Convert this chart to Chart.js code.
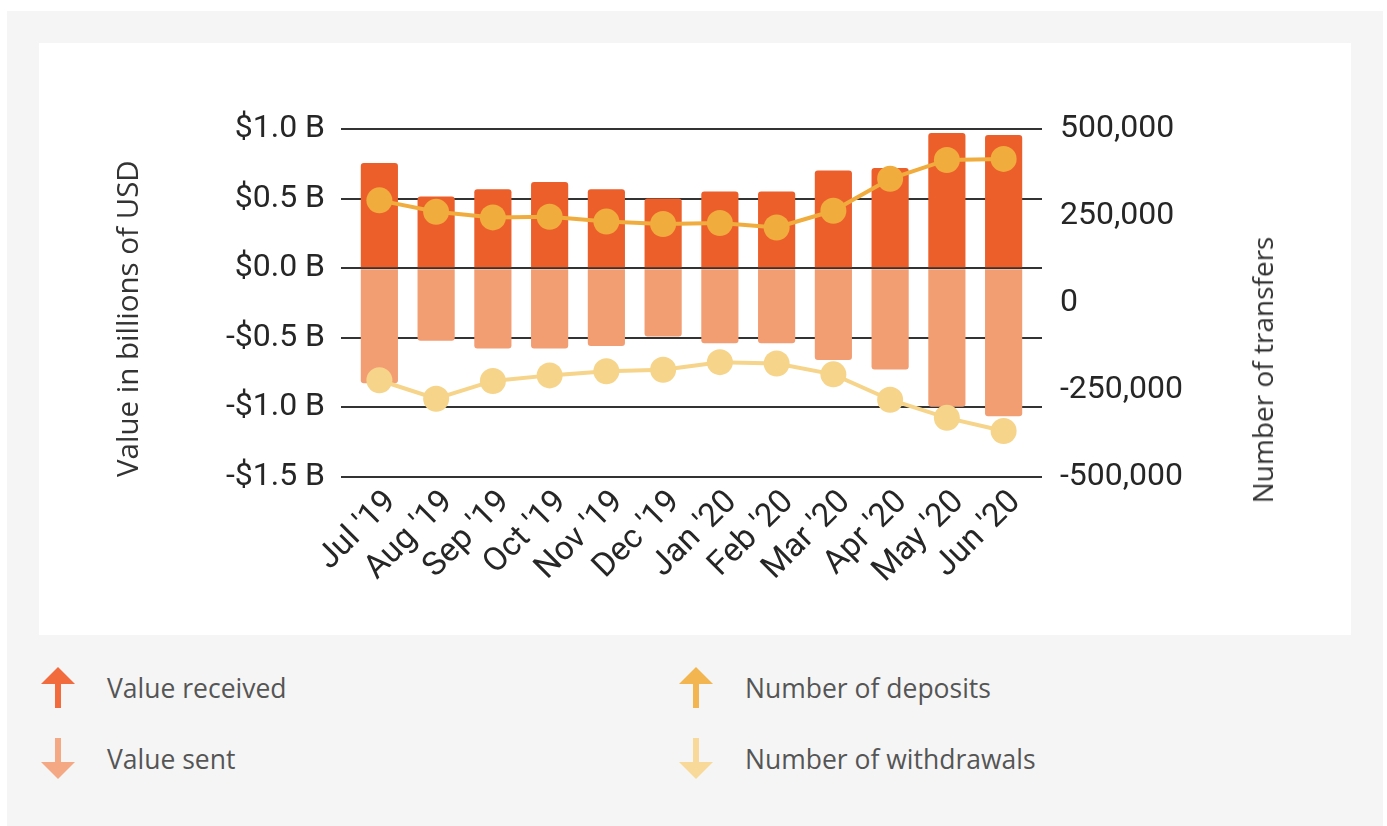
<!DOCTYPE html>
<html>
<head>
<meta charset="utf-8">
<script src="https://cdn.jsdelivr.net/npm/chart.js@4"></script>
<style>
  body { margin: 0; background: #fff; font-family: "Open Sans", sans-serif; }
  #outer { position: absolute; left: 7px; top: 11px; width: 1376px; height: 815px; background: #f5f5f5; }
  #panel { position: absolute; left: 39px; top: 43px; width: 1312px; height: 592px; background: #fff; }
  #rightTitle {
    position: absolute; left: 1262px; top: 370px; transform: translate(-50%, -50%) rotate(-90deg);
    white-space: nowrap; font-size: 28px; color: #333;
  }
  .leg { position: absolute; display: flex; align-items: center; font-size: 26.5px; color: #555; }
  .leg svg { width: 34px; height: 41px; margin-right: 32px; }
</style>
</head>
<body>
<div id="outer"></div>
<div id="panel"><canvas id="chart" width="1312" height="592"></canvas></div>
<div id="rightTitle">Number of transfers</div>

<div class="leg" style="left:41px; top:667px;">
  <svg viewBox="0 0 34 41"><polygon points="17,0 34,17 0,17" fill="#f26b3d"/><rect x="14" y="16" width="6" height="25" fill="#f26b3d"/></svg>
  Value received
</div>
<div class="leg" style="left:41px; top:738px;">
  <svg viewBox="0 0 34 41"><rect x="14" y="0" width="6" height="25" fill="#f5a884"/><polygon points="0,24 34,24 17,41" fill="#f5a884"/></svg>
  Value sent
</div>
<div class="leg" style="left:679px; top:667px;">
  <svg viewBox="0 0 34 41"><polygon points="17,0 34,17 0,17" fill="#f3b550"/><rect x="14" y="16" width="6" height="25" fill="#f3b550"/></svg>
  Number of deposits
</div>
<div class="leg" style="left:679px; top:738px;">
  <svg viewBox="0 0 34 41"><rect x="14" y="0" width="6" height="25" fill="#f8d99a"/><polygon points="0,24 34,24 17,41" fill="#f8d99a"/></svg>
  Number of withdrawals
</div>

<script>
const months = ["Jul '19", "Aug '19", "Sep '19", "Oct '19", "Nov '19", "Dec '19",
                "Jan '20", "Feb '20", "Mar '20", "Apr '20", "May '20", "Jun '20"];

// billions of USD
const valueReceived = [0.755, 0.515, 0.568, 0.62, 0.568, 0.50, 0.551, 0.551, 0.702, 0.719, 0.971, 0.957];
const valueSent = [-0.827, -0.521, -0.576, -0.576, -0.559, -0.49, -0.54, -0.54, -0.66, -0.727, -0.996, -1.063];

// number of transfers
const deposits = [295000, 262000, 246000, 248000, 234000, 227000, 230000, 217000, 265000, 357000, 411000, 414000];
const withdrawals = [-222000, -275000, -224000, -208000, -196000, -192000, -170000, -174000, -205000, -278000, -330000, -368000];

const tickFont = { family: 'Roboto', size: 32 };
const textColor = '#262626';
const gridColor = '#333';

const ctx = document.getElementById('chart').getContext('2d');
new Chart(ctx, {
  data: {
    labels: months,
    datasets: [
      {
        type: 'line', label: 'Number of deposits', data: deposits, yAxisID: 'y1', order: 0,
        borderColor: '#f0ac3c', backgroundColor: '#f0ac3c', borderWidth: 4,
        pointRadius: 13, pointBorderWidth: 0, pointHoverRadius: 13, tension: 0,
      },
      {
        type: 'line', label: 'Number of withdrawals', data: withdrawals, yAxisID: 'y1', order: 0,
        borderColor: '#f6d48a', backgroundColor: '#f6d48a', borderWidth: 4,
        pointRadius: 13, pointBorderWidth: 0, pointHoverRadius: 13, tension: 0,
      },
      {
        type: 'bar', label: 'Value received', data: valueReceived, yAxisID: 'y', order: 1,
        backgroundColor: '#ec5f2b', borderRadius: 3, borderSkipped: 'start',
        barPercentage: 0.655, categoryPercentage: 1,
      },
      {
        type: 'bar', label: 'Value sent', data: valueSent, yAxisID: 'y', order: 1,
        backgroundColor: '#f39d72', borderRadius: 3, borderSkipped: 'start',
        barPercentage: 0.655, categoryPercentage: 1,
      },
    ]
  },
  options: {
    responsive: false,
    animation: false,
    layout: { padding: { top: 86, bottom: 0, left: 0, right: 0 } },
    plugins: { legend: { display: false }, tooltip: { enabled: false } },
    scales: {
      x: {
        stacked: true,
        grid: { display: false, drawTicks: false },
        border: { display: false },
        ticks: {
          font: { family: 'Roboto', size: 33 }, color: textColor, minRotation: 45, maxRotation: 45,
          padding: 6, labelOffset: 12, autoSkip: false,
        },
        afterFit: s => { s.height = 158; },
      },
      y: {
        stacked: true,
        position: 'left',
        min: -1.5, max: 1.0,
        grid: { color: gridColor, lineWidth: 2, tickLength: 10, drawTicks: true },
        border: { display: false },
        ticks: {
          stepSize: 0.5, padding: 16, font: tickFont, color: textColor,
          callback: v => (v < 0 ? '-' : '') + '$' + Math.abs(v).toFixed(1) + ' B',
        },
        title: {
          display: true, text: 'Value in billions of USD', align: 'start',
          font: { family: 'Open Sans', size: 29.5 }, color: '#333', padding: { top: 73, bottom: 0 },
        },
        afterFit: s => { s.width = 312; },
      },
      yg: {
        position: 'right', weight: 0,
        min: -1.5, max: 1.0,
        grid: { drawOnChartArea: false, color: gridColor, lineWidth: 2, tickLength: 10, drawTicks: true },
        border: { display: false },
        ticks: { stepSize: 0.5, display: false },
        afterFit: s => { s.width = 10; },
      },
      y1: {
        position: 'right', weight: 1,
        min: -500000, max: 500000,
        grid: { display: false, drawTicks: false },
        border: { display: false },
        ticks: {
          stepSize: 250000, padding: 18, font: tickFont, color: textColor,
          callback: v => v.toLocaleString('en-US'),
        },
        afterFit: s => { s.width = 309; },
      },
    }
  }
});
</script>
</body>
</html>
